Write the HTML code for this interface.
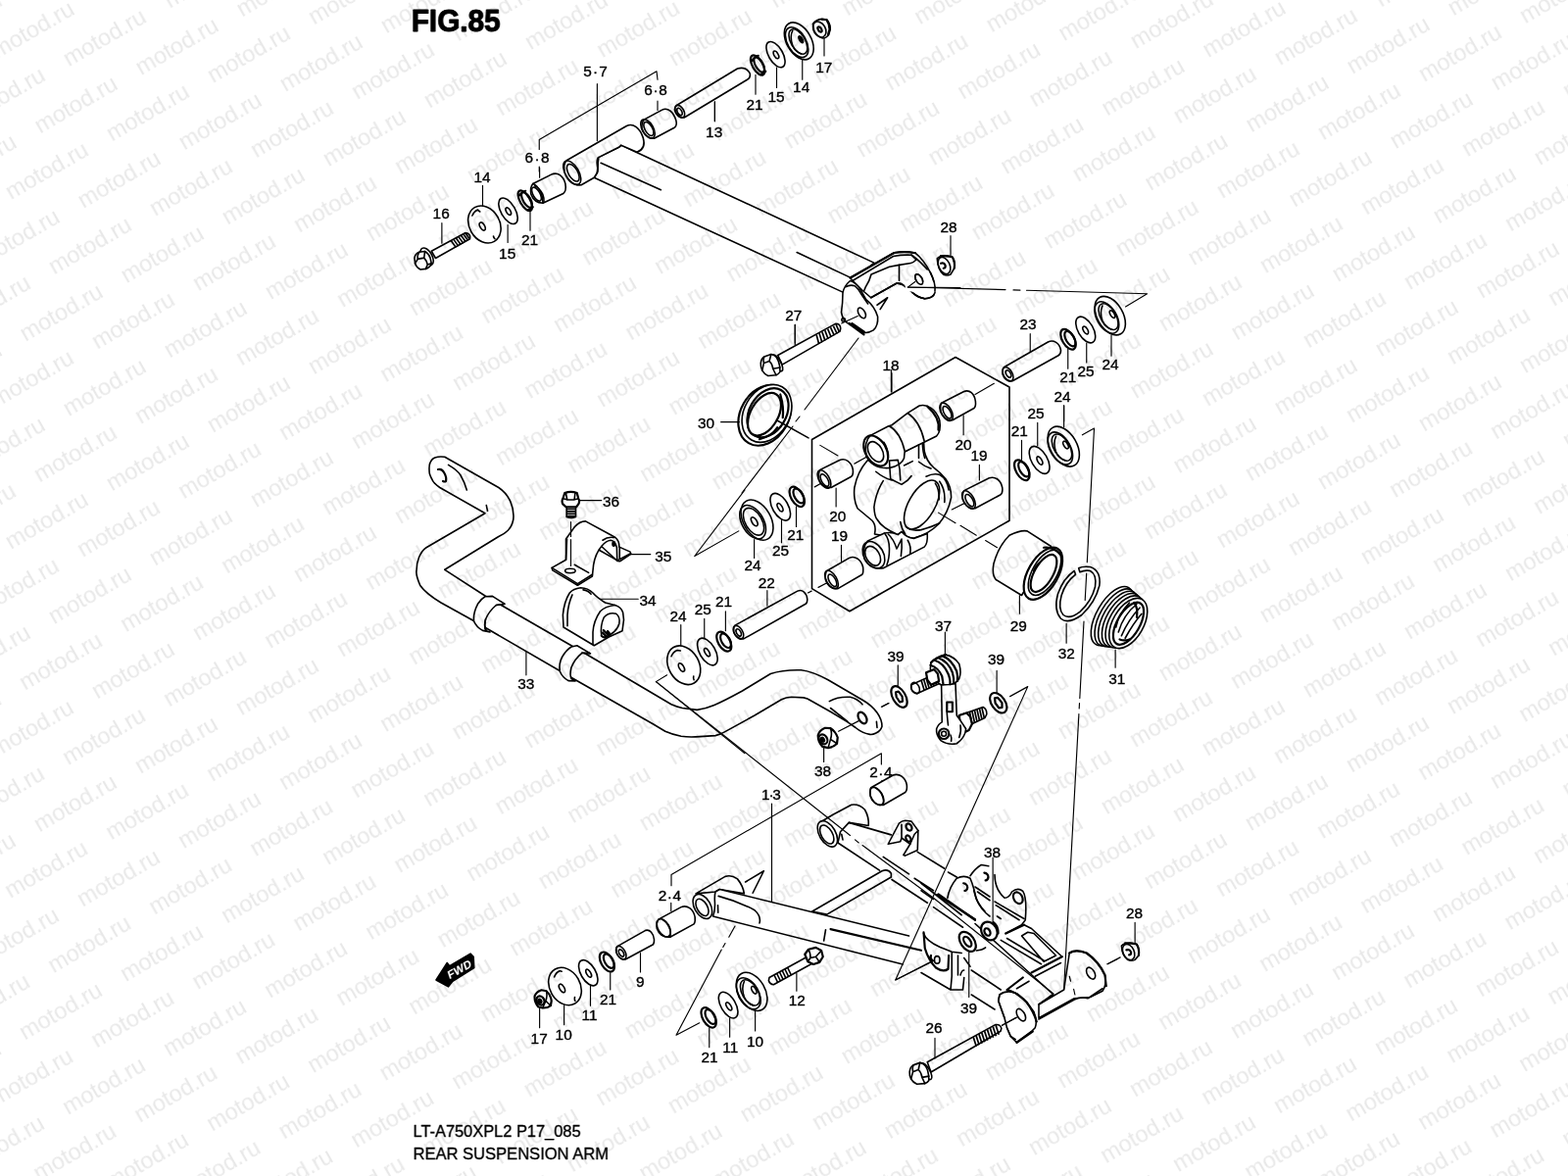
<!DOCTYPE html>
<html lang="en">
<head>
<meta charset="utf-8">
<title>FIG.85 REAR SUSPENSION ARM</title>
<style>
html,body{margin:0;padding:0;background:#fff;}
body{width:1600px;height:1200px;overflow:hidden;position:relative;font-family:"Liberation Sans",sans-serif;}
svg{position:absolute;left:0;top:0;display:block;filter:grayscale(1);}
.wm text{font-family:"Liberation Sans",sans-serif;font-size:23.6px;fill:#000;fill-opacity:.09;}
.d *{fill:none;stroke:#000;stroke-width:1.6;stroke-linecap:round;stroke-linejoin:round;vector-effect:non-scaling-stroke;}
.d .f{fill:#fff;}
.d .n{stroke-width:1.15;stroke:#000;}
.d .b{stroke-width:2.2;}
.d .k{fill:#000;}
.d .th{stroke-width:1.7;stroke-linecap:butt;}
.l{opacity:.999}
.t{opacity:.999}
.fw text{font:bold 11.5px "Liberation Sans",sans-serif;fill:#fff;letter-spacing:.2px;}
.bt text{font-family:"Liberation Sans",sans-serif;font-size:15.8px;fill:#000;stroke:#000;stroke-width:.3px;}
.l text{font-family:"Liberation Sans",sans-serif;font-size:16px;fill:#000;stroke:#000;stroke-width:.4px;stroke-linejoin:round;}
</style>
</head>
<body>
<svg width="1600" height="1200" viewBox="0 0 1600 1200">
<rect width="1600" height="1200" fill="#fff"/>
<!-- 10_t_400_150.svg -->
<g class="d" transform="translate(400,150) scale(0.125)">
<!-- bolt 16 -->
<path class="f" d="M322,850 L600,700 Q645,708 636,750 L356,908 Z"/>
<path class="th" d="M482,764 L522,820 M502,753 L542,809 M522,742 L562,798 M542,731 L582,786 M562,720 L602,774 M582,710 L620,762 M600,702 L634,752"/>
<ellipse class="f" cx="285" cy="895" rx="42" ry="78" transform="rotate(-30 285 895)"/>
<path class="f" d="M183,905 Q190,870 222,858 L268,852 Q300,870 312,905 L322,950 Q310,985 275,995 L232,1000 Q200,985 188,950 Z"/>
<path d="M222,858 Q205,880 210,915 L188,950 M210,915 L262,905 Q285,930 290,960 L275,995 M262,905 L268,852 M290,960 L322,950"/>
<!-- washer 14 -->
<ellipse class="f" cx="755" cy="632" rx="124" ry="160" transform="rotate(-30 755 632)"/>
<path d="M655,560 Q670,525 700,512 M840,750 Q830,740 828,728 M718,528 Q705,520 700,512"/>
<ellipse cx="738" cy="648" rx="19" ry="36" transform="rotate(-30 738 648)"/>
<!-- washer 15 -->
<ellipse class="f" cx="948" cy="522" rx="58" ry="118" transform="rotate(-30 948 522)"/>
<ellipse cx="950" cy="525" rx="17" ry="33" transform="rotate(-30 950 525)"/>
<!-- seal 21 -->
<ellipse class="f b" cx="1086" cy="438" rx="40" ry="92" transform="rotate(-30 1086 438)"/>
<ellipse class="b" cx="1100" cy="432" rx="30" ry="70" transform="rotate(-30 1100 432)"/>
<path class="b" d="M1040,395 Q1060,365 1090,358 M1105,515 Q1135,510 1150,490"/>
<!-- bushing 6.8 lower -->
<path class="f" d="M1150,300 L1300,225 C1350,200 1400,235 1415,300 C1422,340 1415,368 1398,380 L1232,458 Q1160,455 1135,385 Q1125,330 1150,300 Z"/>
<path d="M1150,300 Q1185,310 1215,370 Q1235,420 1232,458"/>
<ellipse cx="1180" cy="385" rx="28" ry="62" transform="rotate(-30 1180 385)"/>
<path d="M1165,318 Q1200,330 1230,385 Q1245,425 1240,448"/>
<!-- leaders -->
<path class="n" d="M740,315 V480 M407,620 V785 M1205,170 V250 M1128,520 V682 M945,635 V780"/>
</g>

<!-- 11_t_540_50.svg -->
<g class="d" transform="translate(540,50) scale(0.125)">
<!-- arm of part 5.7 (extends to clevis) -->
<path class="f" d="M565,885 L735,800 L750,785 L890,850 L2815,1745 L2560,1985 L530,1050 L555,1010 Z"/>
<path d="M585,930 L1075,1150"/>
<path d="M2185,1660 L2620,1865"/>
<!-- cross tube 5.7 -->
<path class="f" d="M305,910 L795,628 C850,600 905,650 930,725 C950,790 925,825 880,842 L750,785 L735,800 L565,885 L555,1010 L530,1050 L425,1110 Q330,1120 290,1010 Q275,940 305,910 Z"/>
<ellipse cx="350" cy="1010" rx="55" ry="108" transform="rotate(-30 350 1010)"/>
<ellipse cx="358" cy="1010" rx="38" ry="78" transform="rotate(-30 358 1010)"/>
<path d="M565,885 Q548,905 555,950 Q565,990 555,1010"/>
<!-- bracket -->
<path class="n" d="M82,1000 V960 M82,820 V740 L1040,182 L1048,250 M555,285 V750 M1048,425 V500 M1515,430 V590"/>
<!-- upper bushing 6.8 -->
<path class="f" d="M940,575 L1085,497 C1130,475 1175,510 1198,580 C1208,615 1200,632 1185,642 L1020,730 Q950,730 920,650 Q915,600 940,575 Z"/>
<ellipse cx="968" cy="652" rx="45" ry="85" transform="rotate(-30 968 652)"/>
<ellipse cx="975" cy="652" rx="30" ry="62" transform="rotate(-30 975 652)"/>
<!-- tube 13 -->
<path class="f" d="M1200,462 L1700,160 Q1765,140 1800,195 Q1812,232 1780,250 L1265,560 Q1205,560 1188,500 Q1185,475 1200,462 Z"/>
<ellipse cx="1230" cy="510" rx="32" ry="56" transform="rotate(-30 1230 510)"/>
<ellipse cx="1228" cy="512" rx="17" ry="32" transform="rotate(-30 1228 512)"/>
</g>

<!-- 12_t_700_0.svg -->
<g class="d" transform="translate(700,0) scale(0.125)">
<!-- seal 21 -->
<ellipse class="f b" cx="585" cy="532" rx="42" ry="90" transform="rotate(-30 585 532)"/>
<ellipse class="b" cx="597" cy="528" rx="30" ry="68" transform="rotate(-30 597 528)"/>
<path class="b" d="M540,495 Q560,462 590,455 M605,608 Q635,603 650,583"/>
<!-- washer 15 -->
<ellipse class="f" cx="732" cy="445" rx="58" ry="116" transform="rotate(-30 732 445)"/>
<ellipse cx="735" cy="447" rx="17" ry="34" transform="rotate(-30 735 447)"/>
<!-- washer 14 cup -->
<ellipse class="f" cx="922" cy="335" rx="100" ry="165" transform="rotate(-30 922 335)"/>
<ellipse cx="905" cy="345" rx="75" ry="135" transform="rotate(-30 905 345)"/>
<ellipse cx="915" cy="340" rx="58" ry="112" transform="rotate(-30 915 340)"/>
<ellipse class="k" cx="938" cy="322" rx="13" ry="30" transform="rotate(-30 938 322)"/>
<path d="M870,250 Q845,300 870,370 Q890,420 940,440"/>
<!-- nut 17 -->
<path class="f" d="M1035,195 Q1060,160 1110,155 L1150,160 Q1180,200 1178,240 L1165,285 Q1145,312 1115,312 Q1070,300 1045,250 Z"/>
<ellipse cx="1090" cy="240" rx="48" ry="68" transform="rotate(-30 1090 240)"/>
<ellipse class="b" cx="1092" cy="240" rx="13" ry="24" transform="rotate(-30 1092 240)"/>
<path class="b" d="M1110,158 L1148,162 Q1175,200 1172,240 L1160,282"/>
<path class="n" d="M235,830 V990 M568,610 V770 M740,550 V715 M950,485 V650 M1128,315 V455"/>
</g>

<!-- 13_t_780_200.svg -->
<g class="d" transform="translate(780,200) scale(0.125)">
<!-- clevis far plate -->
<path class="f" d="M1060,462 Q1150,448 1232,465 Q1300,520 1355,625 Q1400,715 1392,790 Q1375,835 1310,838 Q1255,830 1210,790 L1130,725 L1080,712 L870,830 L800,770 L700,670 Z"/>
<path d="M1200,480 Q1280,540 1330,600"/>
<ellipse cx="1262" cy="680" rx="25" ry="46" transform="rotate(-30 1262 680)"/>
<path d="M1210,790 Q1255,830 1310,838"/>
<path class="f" stroke="none" style="stroke:none" d="M1150,700 L1420,700 L1420,780 L1150,780 Z"/>
<path d="M1355,625 Q1400,715 1392,775 M1385,805 Q1370,832 1310,838 Q1255,830 1210,790"/>
<ellipse cx="1262" cy="680" rx="25" ry="46" transform="rotate(-30 1262 680)"/>
<path class="n" d="M1170,745 L1230,700 M1170,745 L1600,748"/>
<!-- top strap -->
<path class="b" d="M700,668 L1060,464 Q1150,450 1232,466"/>
<path d="M722,690 L1052,492 Q1130,478 1200,482 L1240,520 Q1215,545 1195,548 L1100,563 L1020,578 L872,640 Q860,690 825,745 L815,770"/>
<path d="M1100,563 V690 M870,830 L1080,712 Q1110,705 1135,728"/>
<path d="M920,890 L1005,830 L945,925"/>
<!-- near plate -->
<path class="f" d="M640,790 Q650,735 700,692 Q735,700 775,750 L830,845 Q900,900 925,985 Q930,1060 890,1095 Q850,1120 815,1115 L690,1045 Q640,1020 628,950 Q640,870 640,790 Z"/>
<path d="M662,742 Q700,720 740,735 Q770,760 790,800 L845,880"/>
<ellipse cx="795" cy="955" rx="26" ry="47" transform="rotate(-30 795 955)"/>
<path class="b" d="M690,1040 L812,1130"/>
<path class="th" d="M700,1040 L815,1122 M712,1035 L822,1112"/>
<circle cx="645" cy="1010" r="14"/>
<path class="n" d="M630,1040 L762,980"/>
<!-- nut 28 -->
<path class="f" d="M1410,510 Q1440,482 1500,488 L1535,500 Q1560,540 1550,590 L1520,640 Q1490,655 1460,640 Q1415,600 1410,510 Z"/>
<ellipse cx="1468" cy="568" rx="45" ry="72" transform="rotate(-25 1468 568)"/>
<path class="b" d="M1440,488 L1530,496 M1535,500 Q1558,540 1550,588"/>
<path class="b" d="M1440,550 Q1470,540 1478,570 Q1478,590 1462,590"/>
<path class="n" d="M1520,325 V490 M250,1050 V1200"/>
</g>

<!-- 14_t_720_300.svg -->
<g class="d" transform="translate(720,300) scale(0.125)">
<!-- bolt 27 -->
<path class="f" d="M590,500 L1060,243 Q1100,240 1102,280 L1097,305 L625,577 Z"/>
<path class="th" d="M905,333 L925,408 M928,321 L950,394 M951,309 L975,380 M974,297 L1000,366 M997,285 L1025,352 M1020,273 L1050,338 M1043,261 L1073,324 M1064,248 L1092,311"/>
<ellipse class="f" cx="585" cy="562" rx="28" ry="76" transform="rotate(-30 585 562)"/>
<path class="f" d="M450,565 Q455,525 478,512 L535,492 Q570,500 580,520 Q600,550 605,590 L608,635 Q595,655 575,662 L510,668 Q480,655 462,625 Q448,595 450,565 Z"/>
<path d="M478,512 Q468,535 475,565 L462,625 M475,565 L520,548 L535,492 M520,548 Q545,570 550,610 L575,662 M550,610 L608,600"/>
<path class="n" d="M730,250 V415 M1520,645 V800"/>
</g>
<g class="d" transform="translate(700,350) scale(0.125)">
<!-- seal 30 -->
<ellipse class="f b" cx="642" cy="590" rx="197" ry="262" transform="rotate(30 642 590)"/>
<ellipse class="f" cx="660" cy="575" rx="185" ry="250" transform="rotate(30 660 575)"/>
<ellipse class="b" cx="668" cy="570" rx="150" ry="215" transform="rotate(30 668 570)"/>
<ellipse class="f b" cx="640" cy="582" rx="112" ry="190" transform="rotate(30 640 582)"/>
<path class="b" d="M770,420 Q800,520 790,610 M745,690 Q700,760 600,785"/>
<path class="n" d="M285,645 H435"/>
<path d="M740,630 L1000,775"/>
</g>

<!-- 15_t_1000_280.svg -->
<g class="d" transform="translate(1000,280) scale(0.125)">
<!-- tube 23 -->
<path class="f" d="M195,758 L555,552 C600,530 650,560 660,620 Q660,650 640,662 L265,870 Q205,875 185,815 Q180,775 195,758 Z"/>
<ellipse cx="228" cy="815" rx="36" ry="62" transform="rotate(-30 228 815)"/>
<ellipse cx="232" cy="812" rx="18" ry="32" transform="rotate(-30 232 812)"/>
<!-- seal 21 -->
<ellipse class="f b" cx="720" cy="530" rx="48" ry="92" transform="rotate(-30 720 530)"/>
<ellipse class="b" cx="735" cy="525" rx="34" ry="68" transform="rotate(-30 735 525)"/>
<!-- washer 25 -->
<ellipse class="f" cx="862" cy="452" rx="62" ry="118" transform="rotate(-30 862 452)"/>
<ellipse cx="862" cy="456" rx="17" ry="35" transform="rotate(-30 862 456)"/>
<!-- bearing 24 -->
<ellipse class="f" cx="1062" cy="337" rx="105" ry="172" transform="rotate(-30 1062 337)"/>
<ellipse cx="1035" cy="352" rx="80" ry="142" transform="rotate(-30 1035 352)"/>
<ellipse cx="1048" cy="345" rx="62" ry="118" transform="rotate(-30 1048 345)"/>
<ellipse class="f" cx="1080" cy="325" rx="16" ry="34" transform="rotate(-30 1080 325)"/>
<path d="M1000,255 Q975,310 1000,380 Q1020,430 1075,450"/>
<path class="n" d="M410,485 V635 M718,610 V770 M870,560 V720 M1072,495 V665 M685,1070 V1200"/>
</g>

<!-- 16_t_820_380.svg -->
<g class="d" transform="translate(820,380) scale(0.125)">
<!-- detail box 18 -->
<path d="M68,548 L1240,-124 L1680,120 V1210 L375,1950 L68,1765 Z"/>
<path class="n" d="M715,-20 V160 M135,595 L280,680 M90,935 L170,890 M415,745 L550,670 M1400,180 L1555,90 M1210,1120 L1340,1055 M120,1755 L225,1700 M265,945 V1095 M1305,350 V510 M1435,755 V880 M308,1410 V1540"/>
<!-- bushing 20 left -->
<path class="f" d="M135,795 L290,718 C340,695 390,730 402,790 Q408,835 390,850 L225,940 Q150,945 125,875 Q118,820 135,795 Z"/>
<ellipse cx="168" cy="872" rx="42" ry="82" transform="rotate(-30 168 872)"/>
<ellipse cx="172" cy="880" rx="26" ry="55" transform="rotate(-30 172 880)"/>
<!-- bushing 20 upper right -->
<path class="f" d="M1125,250 L1305,158 C1355,135 1395,175 1403,235 Q1408,275 1392,292 L1215,390 Q1145,392 1120,320 Q1112,272 1125,250 Z"/>
<ellipse cx="1165" cy="322" rx="42" ry="80" transform="rotate(-30 1165 322)"/>
<ellipse cx="1172" cy="326" rx="26" ry="55" transform="rotate(-30 1172 326)"/>
<!-- bushing 19 right -->
<path class="f" d="M1310,965 L1515,862 C1565,845 1610,880 1622,940 Q1628,985 1605,1000 L1400,1110 Q1325,1115 1300,1040 Q1292,990 1310,965 Z"/>
<ellipse cx="1348" cy="1040" rx="42" ry="82" transform="rotate(-30 1348 1040)"/>
<ellipse cx="1355" cy="1045" rx="26" ry="55" transform="rotate(-30 1355 1045)"/>
<!-- bushing 19 lower left -->
<path class="f" d="M190,1620 L372,1515 C420,1492 470,1530 485,1590 Q490,1635 478,1650 L280,1765 Q205,1770 180,1695 Q172,1645 190,1620 Z"/>
<ellipse cx="228" cy="1692" rx="42" ry="82" transform="rotate(-30 228 1692)"/>
<ellipse cx="235" cy="1698" rx="26" ry="55" transform="rotate(-30 235 1698)"/>
<!-- knuckle 18 : hub -->
<path class="f" d="M520,720 Q440,810 415,940 Q405,1040 440,1110 L560,1210 Q595,1250 580,1320 L640,1330 L770,1325 L800,1300 Q840,1350 900,1355 Q1020,1320 1100,1240 Q1180,1150 1205,1020 Q1205,930 1160,870 Q1120,820 1060,775 Q1000,720 985,640 L980,560 L820,650 Z"/>
<path d="M650,885 Q590,980 575,1100 Q580,1180 600,1200 Q640,1270 770,1325"/>
<ellipse class="f" cx="965" cy="1080" rx="107" ry="222" transform="rotate(30 965 1080)"/>
<path d="M1000,850 Q1060,820 1110,835 Q1170,870 1185,960 M1075,905 Q1110,960 1105,1040 M1110,890 Q1160,960 1150,1060"/>
<path d="M835,1260 Q880,1300 960,1285 Q1050,1260 1110,1230 M790,1220 Q800,1280 830,1320"/>
<!-- lower boss -->
<path class="f" d="M525,1375 L660,1312 Q720,1300 770,1325 L800,1300 Q840,1350 900,1355 L1010,1315 Q1015,1400 985,1425 L650,1598 Q540,1610 495,1520 Q480,1420 525,1375 Z"/>
<ellipse cx="572" cy="1490" rx="80" ry="118" transform="rotate(-30 572 1490)"/>
<ellipse cx="565" cy="1498" rx="55" ry="85" transform="rotate(-30 565 1498)"/>
<path d="M660,1312 Q700,1360 700,1440 Q700,1520 680,1570 M690,1320 Q735,1360 760,1440 L800,1360 Q805,1440 795,1500 M850,1370 Q880,1420 870,1480"/>
<!-- upper boss -->
<path class="f" d="M545,515 L690,440 L720,430 L845,335 L860,325 L945,272 C1010,255 1080,300 1110,390 Q1125,480 1085,520 L825,648 L820,700 Q800,760 700,780 Q560,790 510,680 Q495,560 545,515 Z"/>
<ellipse class="b" cx="590" cy="640" rx="85" ry="135" transform="rotate(-30 590 640)"/>
<ellipse cx="588" cy="648" rx="55" ry="90" transform="rotate(-30 588 648)"/>
<path d="M700,438 Q790,490 825,640 M850,332 Q950,400 985,560 M655,570 Q690,620 690,700"/>
<path class="b" d="M1010,278 Q1115,370 1100,470"/>
<path d="M700,720 L770,715 Q790,790 790,880 M700,720 Q705,810 710,870 L800,915 L850,880 L880,845 M590,810 Q650,860 720,880 M940,590 V700 M970,580 Q975,660 990,700 M820,760 L890,725 M940,730 Q990,770 1040,785"/>
</g>

<!-- 17_t_1000_400.svg -->
<g class="d" transform="translate(1000,400) scale(0.125)">
<!-- seal 21 -->
<ellipse class="f b" cx="342" cy="638" rx="48" ry="92" transform="rotate(-30 342 638)"/>
<ellipse class="b" cx="358" cy="630" rx="34" ry="68" transform="rotate(-30 358 630)"/>
<!-- washer 25 -->
<ellipse class="f" cx="485" cy="555" rx="64" ry="124" transform="rotate(-30 485 555)"/>
<ellipse cx="487" cy="560" rx="17" ry="37" transform="rotate(-30 487 560)"/>
<!-- bearing 24 -->
<ellipse class="f" cx="682" cy="445" rx="108" ry="178" transform="rotate(-30 682 445)"/>
<ellipse cx="655" cy="460" rx="82" ry="146" transform="rotate(-30 655 460)"/>
<ellipse cx="668" cy="453" rx="64" ry="120" transform="rotate(-30 668 453)"/>
<ellipse class="f" cx="700" cy="432" rx="16" ry="34" transform="rotate(-30 700 432)"/>
<path d="M620,362 Q595,418 620,488 Q640,538 695,558"/>
<path class="n" d="M685,110 V285 M470,250 V440 M340,395 V555"/>
</g>

<!-- 18_t_980_520.svg -->
<g class="d" transform="translate(980,520) scale(0.125)">
<path class="n" d="M-180,25 L-40,110 M0,130 L130,210 M205,252 L300,310"/>
<!-- bearing 29 -->
<path class="f" d="M740,300 L545,175 Q490,165 400,210 Q310,300 272,440 Q255,530 290,572 L500,700 Z"/>
<ellipse class="f b" cx="675" cy="522" rx="122" ry="235" transform="rotate(30 675 522)"/>
<ellipse cx="688" cy="515" rx="100" ry="205" transform="rotate(30 688 515)"/>
<ellipse class="b" cx="680" cy="520" rx="75" ry="170" transform="rotate(30 680 520)"/>
<path class="b" d="M600,500 Q615,460 640,440 M680,310 Q760,300 820,370"/>
<!-- snap ring 32 -->
<path d="M930,500 Q840,560 795,690 Q760,820 820,890 Q880,940 990,860 Q1100,760 1135,620 Q1150,500 1060,468 Q1000,460 965,478 L975,510 Q1020,490 1060,500 Q1115,530 1100,630 Q1070,750 975,835 Q890,900 840,860 Q795,810 825,700 Q860,590 940,530 Z"/>
<!-- boot 31 -->
<ellipse class="f" cx="1240" cy="869" rx="128" ry="268" transform="rotate(30 1240 869)"/>
<ellipse class="f" cx="1266" cy="881" rx="127" ry="259" transform="rotate(30 1266 881)"/>
<ellipse class="f" cx="1292" cy="893" rx="127" ry="251" transform="rotate(30 1292 893)"/>
<ellipse class="f" cx="1318" cy="904" rx="126" ry="242" transform="rotate(30 1318 904)"/>
<ellipse class="f" cx="1344" cy="916" rx="126" ry="234" transform="rotate(30 1344 916)"/>
<ellipse class="f" cx="1370" cy="928" rx="125" ry="225" transform="rotate(30 1370 928)"/>
<ellipse class="b" cx="1372" cy="930" rx="92" ry="192" transform="rotate(30 1372 930)"/>
<path d="M1290,1000 Q1330,860 1440,770 M1315,1030 Q1370,900 1465,800 M1345,1050 Q1410,930 1480,850 M1270,960 Q1290,850 1380,760"/>
<path class="b" d="M1420,760 Q1450,800 1440,880 M1300,1060 Q1340,1075 1380,1060"/>
<path class="n" d="M483,700 V850 M865,930 V1090 M1265,1145 V1290"/>
</g>

<!-- 20_bar.svg -->
<g class="d">
<!-- stabilizer bar 33 (source coords) -->
<path class="f" d="M443.8,466.9 Q448,465.6 453.8,466.3 L508.8,497.5 C520,505 525,518 523.8,530 C522,540 516,544 508.8,547.5 L453.8,581.3 L495,608 L602.5,670 L685,718.8 C690,721 693,722 696.3,722.5 L711.3,724.4 C722,723 732,719 757.5,705 L786.3,687.5 C797,684 808,683.5 817.5,683.8 C828,685 838,690 845,693.8 L881.3,715 C893,722 900,732 900,741.3 C898,748 890,750 887.5,749.4 C880,748 876,745 873.1,742.5 L865,736.9 L847.5,726.3 L827.5,715 Q824,712.5 820,711.9 L807.5,711.3 Q802,711.5 797.5,713.8 L770,730 L739.4,746.9 Q735,749.5 730,750.6 L710,751.9 Q702,752.3 695,751.3 Q686,749.5 678.8,746.3 L666.3,738.8 L585,692.5 L482.5,633 L450,615 C440,609 432,602 428.8,597.5 C425.5,590 424.5,585 425,582.5 C425,575 427,570 427.5,568.8 C430,563 433,560 435,558.8 L450,550 L495,523.8 L448.8,497.5 C444,494 442,492 441.3,490 C439,486 438,483 438.1,481.3 C437.8,477 438,474 438.8,472.5 C440,469.5 442,467.5 443.8,466.9 Z"/>
<!-- eye left details -->
<path d="M457.5,474.4 Q467,480 470,485 Q474,492 476.3,500"/>
<path class="b" d="M447,479 Q451,478 453,482 Q456,487 455,491 Q454,492 452,491"/>
<path d="M496.3,515.6 L497.5,521.3"/>
<!-- eye right details -->
<path d="M846.3,715.6 Q855,710.6 867.5,711.3 Q875,713 880,718.8 M847.5,722.5 L865,736.3 M894.4,736.3 L895,742.5"/>
<ellipse class="b" cx="880" cy="732.5" rx="3.8" ry="6.3" transform="rotate(-30 880 732.5)"/>
<!-- collars -->
<path class="f" d="M495,608.8 L502.5,608.4 L515,616.3 L506.3,617.5 Q498.8,623.8 495.5,632 Q493.5,640 496.3,643.8 L500,645 L492.5,643.4 Q486.3,640 483.6,634 Q482.5,626 487.5,616.3 Q491,611 495,608.8 Z"/>
<path d="M506.3,617.5 L514,616.6 M495.5,632 Q493.5,640 496.3,643.8"/>
<path class="f" d="M583.1,660 L588.8,658.8 L602.5,666.9 L593.8,666.3 Q586.3,672.5 583,681 Q581,689 583.1,692.5 L587,695 L580,694.6 Q573.8,691.3 571.3,685 Q570,677 573.8,670 Q578,663 583.1,660 Z"/>
<path d="M593.8,666.3 L601.5,666.5"/>
</g>

<!-- 21_t_540_490.svg -->
<g class="d" transform="translate(540,490) scale(0.125)">
<!-- bolt 36 -->
<path class="f" d="M305,215 H380 V300 Q342,315 305,300 Z"/>
<path class="th" d="M305,235 H380 M305,255 H380 M305,275 H380 M305,295 H380"/>
<path class="f b" d="M290,105 Q340,85 390,105 L402,150 Q415,170 402,195 L385,218 H300 L275,195 Q262,170 275,150 Z"/>
<path d="M275,150 Q340,170 402,150 M300,108 L310,160 M375,108 L368,160"/>
<!-- clamp 35 -->
<path class="f" d="M300,480 L300,650 L185,715 L190,735 L395,858 L515,785 L525,690 Q540,600 590,540 L720,660 L740,662 L830,602 L825,585 L735,545 Q735,490 700,465 L650,438 L460,335 Q410,335 370,382 Z"/>
<path d="M185,715 L395,845 L515,770 M395,845 L395,858 M370,690 L485,755 M590,540 Q625,495 665,490 Q700,495 715,548 L718,655 M570,570 L720,655 L828,598 M738,548 L738,640 M600,490 Q640,460 690,468 M300,650 L308,480"/>
<ellipse cx="335" cy="740" rx="42" ry="18"/>
<ellipse class="k" cx="690" cy="520" rx="10" ry="18"/>
<path class="n" d="M340,340 V460 M340,485 V700 M410,165 H590 M830,605 H990 M560,970 H890"/>
<!-- bushing 34 -->
<path class="f" d="M330,920 Q360,885 420,878 Q480,880 520,920 Q550,955 620,1000 L700,1020 Q750,1035 765,1080 L772,1140 L760,1230 L650,1280 L530,1350 L280,1200 L275,1100 Q285,990 330,920 Z"/>
<path d="M352,935 Q318,1010 312,1100 L312,1190 M520,1340 L520,1240 Q525,1150 580,1070 Q620,1030 700,1020 M440,895 Q480,900 505,930"/>
<path d="M590,1270 Q578,1190 610,1120 Q650,1075 710,1090 Q745,1120 735,1170 Q725,1210 690,1240 L660,1262"/>
<path class="b" d="M590,1270 Q600,1285 620,1282 L655,1265 M598,1245 L630,1275 M606,1225 L645,1262 M640,1232 L655,1250"/>
</g>

<!-- 22_t_680_500.svg -->
<g class="d" transform="translate(680,500) scale(0.125)">
<path class="n" d="M230,540 L590,335 M230,540 L640,0"/>
<!-- bearing 24 -->
<ellipse class="f" cx="740" cy="245" rx="112" ry="178" transform="rotate(-30 740 245)"/>
<ellipse cx="705" cy="262" rx="88" ry="150" transform="rotate(-30 705 262)"/>
<ellipse cx="712" cy="258" rx="68" ry="122" transform="rotate(-30 712 258)"/>
<ellipse cx="718" cy="258" rx="20" ry="40" transform="rotate(-30 718 258)"/>
<!-- washer 25 -->
<ellipse class="f" cx="930" cy="138" rx="64" ry="122" transform="rotate(-30 930 138)"/>
<ellipse cx="928" cy="142" rx="17" ry="37" transform="rotate(-30 928 142)"/>
<!-- seal 21 -->
<ellipse class="f b" cx="1066" cy="55" rx="48" ry="90" transform="rotate(-30 1066 55)"/>
<ellipse class="b" cx="1080" cy="48" rx="34" ry="66" transform="rotate(-30 1080 48)"/>
<!-- tube 22 -->
<path class="f" d="M560,1105 L1070,825 C1110,808 1145,840 1150,890 Q1152,915 1140,928 L630,1215 Q570,1215 550,1160 Q545,1120 560,1105 Z"/>
<ellipse cx="588" cy="1162" rx="34" ry="60" transform="rotate(-30 588 1162)"/>
<ellipse cx="590" cy="1164" rx="17" ry="32" transform="rotate(-30 590 1164)"/>
<path class="n" d="M1060,135 V300 M940,245 V430 M717,405 V555 M823,820 V945 M483,990 V1150 M310,1050 V1215 M118,1100 V1270 M1155,840 L1185,825"/>
</g>
<g class="d" transform="translate(560,620) scale(0.125)">
<!-- washer 24 thick -->
<ellipse class="f" cx="1102" cy="470" rx="124" ry="168" transform="rotate(-30 1102 470)"/>
<path d="M1000,398 Q1015,360 1048,348 L1075,352 M1185,590 Q1178,580 1182,560"/>
<ellipse cx="1083" cy="488" rx="19" ry="38" transform="rotate(-30 1083 488)"/>
<!-- washer 25 -->
<ellipse class="f" cx="1295" cy="360" rx="64" ry="122" transform="rotate(-30 1295 360)"/>
<ellipse cx="1292" cy="365" rx="17" ry="37" transform="rotate(-30 1292 365)"/>
<!-- seal 21 -->
<ellipse class="f b" cx="1430" cy="277" rx="48" ry="88" transform="rotate(-30 1430 277)"/>
<ellipse class="b" cx="1444" cy="270" rx="34" ry="64" transform="rotate(-30 1444 270)"/>
<path class="n" d="M875,605 L965,550 M875,605 L1600,1190"/>
</g>
<g class="d"><path class="n" d="M536.9,665 V688.8"/></g>

<!-- 23_t_880_640.svg -->
<g class="d" transform="translate(880,640) scale(0.125)">
<path class="n" d="M155,650 L215,620 M675,40 V225 M290,310 V480 M1097,355 V535"/>
<!-- washer 39 left -->
<ellipse class="f b" cx="300" cy="568" rx="52" ry="95" transform="rotate(-30 300 568)"/>
<path class="b" d="M272,530 L295,525 L325,565 L328,605 L305,612 L278,570 Z"/>
<!-- washer 39 right -->
<ellipse class="f b" cx="1110" cy="618" rx="55" ry="92" transform="rotate(-35 1110 618)"/>
<path class="b" d="M1080,578 L1105,575 L1140,618 L1140,655 L1115,660 L1085,620 Z"/>
<!-- link 37 : studs -->
<path class="f" d="M400,470 L610,375 L650,450 L450,540 Q410,535 398,500 Z"/>
<ellipse cx="432" cy="497" rx="32" ry="48" transform="rotate(-25 432 497)"/>
<path class="th" d="M480,432 L505,515 M500,423 L525,506 M520,414 L545,497 M540,405 L565,488 M560,396 L585,479 M580,387 L605,470 M600,378 L625,461"/>
<path class="f" d="M790,720 L985,652 Q1015,665 1015,710 L1000,740 L850,810 Z"/>
<path class="th" d="M875,690 L895,785 M895,683 L915,776 M915,676 L935,767 M935,669 L955,758 M955,662 L975,749 M975,656 L995,742"/>
<path class="f b" d="M790,720 L850,700 L880,730 L895,790 L870,840 L830,860 L800,800 Z"/>
<!-- body -->
<path class="f" d="M645,470 L760,460 L770,720 Q800,760 845,830 Q840,900 770,950 Q700,965 640,925 Q600,880 605,830 Q620,790 650,775 Z"/>
<circle class="b" cx="665" cy="870" r="42"/>
<circle cx="665" cy="870" r="20"/>
<path class="b" d="M690,612 H735 V690 H690 Z"/>
<path d="M690,700 Q695,760 700,800 M720,880 Q730,900 725,930 M800,800 Q810,850 790,900"/>
<!-- top boot -->
<path class="f" d="M560,290 Q600,245 680,225 Q750,240 790,300 Q810,370 790,420 Q770,455 720,468 L640,470 L600,440 Q540,380 560,290 Z"/>
<path class="b" d="M560,290 Q600,245 680,225 M590,270 Q660,290 700,380 Q720,430 715,465 M620,250 Q700,280 735,370 Q750,420 745,458 M655,235 Q730,265 770,360 Q780,400 775,440 M555,310 Q620,330 650,400 L660,465"/>
<path class="f b" d="M520,370 L585,345 L615,380 L625,440 L560,470 L530,430 Z"/>
</g>

<!-- 24_t_720_640.svg -->
<g class="d" transform="translate(720,640) scale(0.125)">
<path class="n" d="M1085,850 L1250,765 M1440,650 L1495,620 M965,985 V1100"/>
<!-- nut 38 -->
<path class="f b" d="M918,880 Q930,840 975,822 L1020,825 Q1060,850 1078,900 L1072,950 Q1045,980 1000,985 L955,975 Q915,935 918,880 Z"/>
<ellipse class="b" cx="960" cy="915" rx="32" ry="42" transform="rotate(-30 960 915)"/>
<ellipse class="k" cx="955" cy="918" rx="14" ry="20" transform="rotate(-30 955 918)"/>
<path d="M1020,825 Q1035,870 1020,915 L1072,950 M1020,915 L1000,985"/>
</g>

<!-- 30_t_640_870.svg -->
<g class="d" transform="translate(640,870) scale(0.125)">
<path class="n" d="M360,270 V180 L2075,-810 V-720 M2080,-590 V-515 M358,410 V475 M1180,-400 V400 M880,600 L830,690 M800,740 L782,772 M770,792 L400,1490 L590,1390 M108,820 V975 M1383,985 V1130"/>
<!-- bushing 2.4 left -->
<path class="f" d="M255,545 L440,445 C490,425 540,460 553,525 Q558,565 545,583 L350,690 Q270,695 242,620 Q235,570 255,545 Z"/>
<ellipse cx="298" cy="615" rx="46" ry="80" transform="rotate(-30 298 615)"/>
<path d="M290,548 Q330,570 350,630 Q358,665 350,688"/>
<!-- tube 9 end -->
<path class="f" d="M-80,765 L150,635 C185,625 215,660 220,710 Q222,735 212,750 L-15,872 Q-70,870 -88,815 Q-92,780 -80,765 Z"/>
<ellipse cx="-50" cy="818" rx="34" ry="60" transform="rotate(-30 -50 818)"/>
<ellipse cx="-48" cy="820" rx="17" ry="32" transform="rotate(-30 -48 820)"/>
<!-- front pivot tube -->
<path class="f" d="M560,335 L800,195 Q850,178 900,215 Q945,270 955,335 L755,300 L720,320 Z"/>
<!-- front arm -->
<path class="f" style="stroke:none" d="M755,300 L2420,710 L2400,960 L700,520 Q720,470 715,400 Q712,350 720,320 Z"/>
<path d="M2300,680 L755,300 L720,320 Q712,350 715,400 Q720,470 700,520 L2250,912"/>
<path d="M745,355 Q900,395 1040,470 Q1095,520 1080,575 M740,430 L742,490"/>
<ellipse class="f" cx="615" cy="440" rx="66" ry="108" transform="rotate(-30 615 440)"/>
<ellipse cx="612" cy="447" rx="42" ry="76" transform="rotate(-30 612 447)"/>
<path d="M965,240 L1115,150 L1025,330"/>
<!-- bolt 12 -->
<path class="f" d="M1160,1020 L1470,850 L1520,900 L1195,1078 Q1165,1075 1155,1045 Z"/>
<path class="th" d="M1200,1000 L1228,1058 M1222,988 L1250,1046 M1244,976 L1272,1034 M1266,964 L1294,1022 M1288,952 L1316,1010 M1310,940 L1338,998"/>
<path class="f b" d="M1450,830 L1480,790 L1540,775 L1585,800 L1598,850 L1570,895 L1520,912 L1475,890 Z"/>
<path d="M1480,790 Q1500,830 1495,860 L1475,890 M1495,860 L1540,850 L1585,800 M1540,850 Q1560,880 1570,895"/>
</g>
<g class="d" transform="translate(680,980) scale(0.125)">
<!-- seal 21 -->
<ellipse class="f b" cx="345" cy="467" rx="48" ry="90" transform="rotate(-30 345 467)"/>
<ellipse class="b" cx="360" cy="460" rx="34" ry="66" transform="rotate(-30 360 460)"/>
<!-- washer 11 -->
<ellipse class="f" cx="505" cy="365" rx="60" ry="118" transform="rotate(-30 505 365)"/>
<ellipse cx="510" cy="375" rx="17" ry="37" transform="rotate(-30 510 375)"/>
<!-- bearing 10 -->
<ellipse class="f" cx="697" cy="255" rx="108" ry="170" transform="rotate(-30 697 255)"/>
<ellipse cx="670" cy="270" rx="82" ry="140" transform="rotate(-30 670 270)"/>
<ellipse cx="683" cy="263" rx="64" ry="115" transform="rotate(-30 683 263)"/>
<ellipse class="f" cx="715" cy="242" rx="16" ry="34" transform="rotate(-30 715 242)"/>
<path d="M635,172 Q610,228 635,298 Q655,348 710,368"/>
<path class="n" d="M350,550 V710 M517,470 V625 M725,405 V575"/>
</g>

<!-- 31_t_820_830.svg -->
<g class="d" transform="translate(820,830) scale(0.125)">
<!-- chain line along rear arm -->
<!-- bushing 2.4 upper -->
<path class="f" d="M550,-210 L730,-312 C780,-330 830,-295 842,-235 Q848,-190 830,-172 L650,-68 Q570,-65 545,-140 Q538,-190 550,-210 Z"/>
<ellipse cx="598" cy="-140" rx="46" ry="80" transform="rotate(-30 598 -140)"/>
<path d="M590,-205 Q630,-185 650,-125 Q658,-90 650,-70"/>
<!-- rear pivot tube -->
<path class="f" d="M140,70 L240,10 L390,-70 Q450,-80 500,-30 Q535,30 530,100 L370,75 L300,150 L280,240 Z"/>
<path d="M370,75 L715,175"/>
<ellipse class="f" cx="195" cy="167" rx="66" ry="116" transform="rotate(-30 195 167)"/>
<ellipse cx="190" cy="172" rx="45" ry="84" transform="rotate(-30 190 172)"/>
<path d="M310,170 L320,215"/>
<!-- rear arm edges -->
<path d="M280,240 L620,465 M720,540 L1010,730 M1060,765 L1300,930 M650,355 L860,495 M905,530 L1060,630 M930,315 L1150,450 M1180,480 L1250,520"/>
<path class="b" d="M1100,660 L1400,870"/>
<!-- small bracket -->
<path class="f" d="M690,250 L780,80 Q800,60 830,58 L880,65 L935,140 L930,300 L830,345 L815,340 L870,250 L800,200 L790,230 Z"/>
<path d="M800,200 L800,90 M870,250 L905,170 L935,140"/>
<ellipse class="b" cx="860" cy="112" rx="22" ry="30" transform="rotate(-30 860 112)"/>
<ellipse class="b" cx="855" cy="205" rx="18" ry="28" transform="rotate(-30 855 205)"/>
<!-- cross member -->
<path class="f" d="M70,800 L640,470 Q690,450 715,490 L715,520 L190,825 Z"/>
<!-- front arm seam -->
<path class="b" d="M220,945 L960,1118"/>
<path d="M180,950 L165,1040"/>
</g>

<!-- 32_t_940_880.svg -->
<g class="d" transform="translate(940,880) scale(0.125)">
<path class="n" d="M585,-40 V490 M390,735 V1100 M1165,1040 L1330,945 M1520,830 L1600,790"/>
<!-- rear arm right end lines -->
<path d="M0,170 L330,430 M440,500 L1080,1080 L960,1160 M0,230 L100,300 M440,200 L560,280 M600,320 L840,460 M460,240 L560,310 M610,350 L800,470"/>
<path class="b" d="M130,265 L440,465"/>
<!-- mount bracket ears -->
<path d="M215,290 Q230,200 290,130 Q350,100 400,130 Q430,200 450,300 Q490,390 560,440 M400,110 Q440,50 490,20 L550,30 M600,100 Q600,220 680,290 Q720,290 740,240 Q790,200 830,235 Q865,290 850,470 L820,510 L690,580"/>
<path class="b" d="M345,170 Q375,175 378,205 Q375,230 355,232 M515,85 Q545,90 548,120 Q545,145 525,147"/>
<ellipse class="b" cx="790" cy="290" rx="35" ry="50" transform="rotate(-30 790 290)"/>
<path class="b" d="M690,580 L840,510"/>
<path d="M430,230 Q450,330 520,400 M620,440 L650,460"/>
<!-- channel -->
<path d="M840,510 L900,540 L1150,770 M820,600 L870,570 L920,580 L1100,760 L1000,810 Z M650,635 L980,830 M700,620 L1000,800 M930,930 L1140,820"/>
<path class="b" d="M900,900 L1150,770"/>
<!-- end tab far plate -->
<path class="f" d="M1210,740 Q1260,705 1350,740 Q1450,810 1500,920 Q1515,1000 1480,1050 L1380,1100 L1250,1110 L960,1270 L960,1160 L1165,1040 Z"/>
<path class="b" d="M1210,740 Q1260,705 1350,740 Q1450,810 1500,920 L1510,1010"/>
<ellipse cx="1385" cy="905" rx="30" ry="52" transform="rotate(-30 1385 905)"/>
<!-- nut 38 -->
<ellipse class="f b" cx="555" cy="560" rx="62" ry="78" transform="rotate(-30 555 560)"/>
<ellipse class="b" cx="540" cy="568" rx="22" ry="32" transform="rotate(-30 540 568)"/>
<path class="b" d="M590,490 Q630,520 628,580"/>
<!-- washer 39 -->
<ellipse class="f b" cx="378" cy="647" rx="55" ry="90" transform="rotate(-35 378 647)"/>
<ellipse class="b" cx="378" cy="647" rx="24" ry="46" transform="rotate(-35 378 647)"/>
<!-- link bracket at front arm end -->
<path d="M20,580 Q40,640 150,690 L250,730 L330,740 M450,720 Q500,715 525,695 M250,740 V930 L240,1040 H340 L350,940 M300,760 V920 M350,880 Q330,880 320,920 M0,900 L240,1040 M410,880 L650,1040 M410,1080 L600,1200 M350,780 L400,850"/>
<path class="b" d="M20,570 L30,700 Q60,800 120,860 Q180,900 220,870 L225,760 M90,800 Q70,780 80,760"/>
<ellipse cx="130" cy="795" rx="22" ry="30"/>
<path class="n" d="M-210,960 L100,800"/>
</g>

<!-- 33_t_1000_940.svg -->
<g class="d" transform="translate(1000,940) scale(0.125)">
<!-- near plate of end clevis -->
<path class="f" d="M160,600 Q220,555 300,590 Q380,650 440,740 Q470,820 450,870 L420,900 L300,990 L250,940 L220,870 L200,790 L150,650 Z"/>
<path class="b" d="M220,560 Q300,580 380,660 Q440,740 462,820 M300,990 L430,900 M220,560 L350,460"/>
<path d="M160,600 L150,650 L200,790 M220,870 L250,940 L290,965 M300,550 L400,490 M480,680 L590,600 M480,800 L770,640 Q820,615 880,630 L1000,550"/>
<ellipse cx="335" cy="765" rx="30" ry="55" transform="rotate(-30 335 765)"/>
<path class="n" d="M180,850 L300,785 M1040,350 L1145,295 M1265,10 V180"/>
<!-- nut 28 lower -->
<path class="f" d="M1155,200 Q1185,172 1245,178 L1280,190 Q1305,230 1295,280 L1265,315 Q1235,330 1205,315 Q1160,280 1155,200 Z"/>
<ellipse cx="1213" cy="252" rx="45" ry="68" transform="rotate(-25 1213 252)"/>
<path class="b" d="M1185,178 L1275,186 M1280,190 Q1303,230 1295,278 M1195,235 Q1225,225 1233,255 Q1233,275 1217,275"/>
<!-- bolt 26 thread end -->
<path class="n" d="M730,450 L740,490 M765,555 L775,600"/>
</g>

<!-- 34_t_900_1020.svg -->
<g class="d" transform="translate(900,1020) scale(0.125)">
<!-- bolt 26 -->
<path class="f" d="M370,510 L925,205 Q965,200 975,235 L968,258 L400,592 Z"/>
<path class="th" d="M745,305 L770,382 M768,293 L793,370 M791,281 L816,358 M814,269 L839,346 M837,257 L862,334 M860,245 L885,322 M883,233 L908,310 M906,221 L931,298 M929,209 L954,286"/>
<ellipse class="f" cx="362" cy="585" rx="28" ry="76" transform="rotate(-30 362 585)"/>
<path class="f" d="M225,590 Q230,548 255,535 L310,515 Q345,522 357,545 Q377,575 380,615 L383,660 Q370,680 350,685 L285,690 Q255,678 237,648 Q223,618 225,590 Z"/>
<path d="M255,535 Q245,560 252,590 L237,648 M252,590 L297,572 L310,515 M297,572 Q322,595 327,635 L350,685 M327,635 L383,625"/>
<path class="n" d="M432,315 V480 M980,210 L1090,150"/>
</g>

<!-- 35_t_420_940.svg -->
<g class="d" transform="translate(420,940) scale(0.125)">
<!-- FWD arrow -->
<path class="k" d="M200,480 L290,340 L310,365 L480,265 L505,290 L510,380 L335,490 L300,535 Z"/>
<!-- nut 17 -->
<path class="f b" d="M1005,610 Q1020,575 1060,562 L1100,570 Q1135,600 1142,650 L1135,690 Q1110,710 1070,708 L1035,700 Q1000,660 1005,610 Z"/>
<ellipse class="b" cx="1052" cy="648" rx="30" ry="38" transform="rotate(-30 1052 648)"/>
<ellipse class="k" cx="1048" cy="652" rx="13" ry="18" transform="rotate(-30 1048 652)"/>
<path d="M1100,570 Q1110,610 1095,650 L1135,690 M1095,650 L1070,708"/>
<!-- washer 10 -->
<ellipse class="f" cx="1252" cy="532" rx="124" ry="162" transform="rotate(-30 1252 532)"/>
<path d="M1165,455 Q1180,415 1212,405 L1225,410 M1335,650 Q1328,640 1332,620"/>
<ellipse cx="1228" cy="548" rx="19" ry="38" transform="rotate(-30 1228 548)"/>
<!-- washer 11 -->
<ellipse class="f" cx="1442" cy="422" rx="60" ry="116" transform="rotate(-30 1442 422)"/>
<ellipse cx="1445" cy="425" rx="17" ry="36" transform="rotate(-30 1445 425)"/>
<!-- seal 21 -->
<ellipse class="f b" cx="1595" cy="332" rx="48" ry="88" transform="rotate(-30 1595 332)"/>
<ellipse class="b" cx="1610" cy="325" rx="34" ry="64" transform="rotate(-30 1610 325)"/>
<path class="n" d="M1045,710 V870 M1245,685 V845 M1460,525 V690 M1622,420 V560"/>
</g>
<g class="fw" transform="translate(458.6,999.6) rotate(-30) skewX(-12)"><text x="0" y="0">FWD</text></g>

<!-- 80_title.svg -->
<g class="t">
<text transform="translate(419.7,32.4) scale(0.945,1)" style="font:bold 31.5px 'Liberation Sans',sans-serif;fill:#000;stroke:#000;stroke-width:.9px;stroke-linejoin:round">FIG.85</text>
</g>
<g class="bt">
<text x="421.5" y="1159.5" textLength="171" lengthAdjust="spacingAndGlyphs">LT-A750XPL2 P17_085</text>
<text x="421.5" y="1182.5" textLength="199.5" lengthAdjust="spacingAndGlyphs">REAR SUSPENSION ARM</text>
</g>

<!-- 85_labels.svg -->
<g class="l">
<text transform="translate(483.5,186.0) scale(0.9609,0.9375)">14</text>
<text transform="translate(441.6,222.7) scale(0.9609,0.9375)">16</text>
<text transform="translate(535.4,166.4) scale(0.9609,0.9375)">6<tspan dx="1.5" dy="0.5">·</tspan><tspan dx="1.5" dy="-0.5">8</tspan></text>
<text transform="translate(531.9,250.4) scale(0.9609,0.9375)">21</text>
<text transform="translate(509.1,263.9) scale(0.9609,0.9375)">15</text>
<text transform="translate(595.2,77.9) scale(0.9609,0.9375)">5<tspan dx="1.3" dy="0.5">·</tspan><tspan dx="1.3" dy="-0.5">7</tspan></text>
<text transform="translate(657.3,96.7) scale(0.9609,0.9375)">6<tspan dx="0.7" dy="0.5">·</tspan><tspan dx="0.7" dy="-0.5">8</tspan></text>
<text transform="translate(720.1,139.8) scale(0.9609,0.9375)">13</text>
<text transform="translate(761.5,111.7) scale(0.9609,0.9375)">21</text>
<text transform="translate(783.5,103.9) scale(0.9609,0.9375)">15</text>
<text transform="translate(809.1,94.2) scale(0.9609,0.9375)">14</text>
<text transform="translate(832.3,73.5) scale(0.9609,0.9375)">17</text>
<text transform="translate(959.4,236.7) scale(0.9609,0.9375)">28</text>
<text transform="translate(801.3,327.3) scale(0.9609,0.9375)">27</text>
<text transform="translate(711.9,436.7) scale(0.9609,0.9375)">30</text>
<text transform="translate(900.4,378.4) scale(0.9609,0.9375)">18</text>
<text transform="translate(1040.4,336.0) scale(0.9609,0.9375)">23</text>
<text transform="translate(1081.3,390.4) scale(0.9609,0.9375)">21</text>
<text transform="translate(1099.4,384.2) scale(0.9609,0.9375)">25</text>
<text transform="translate(1124.4,377.3) scale(0.9609,0.9375)">24</text>
<text transform="translate(1075.4,410.4) scale(0.9609,0.9375)">24</text>
<text transform="translate(1048.5,426.7) scale(0.9609,0.9375)">25</text>
<text transform="translate(1031.7,444.8) scale(0.9609,0.9375)">21</text>
<text transform="translate(1030.7,644.4) scale(0.9609,0.9375)">29</text>
<text transform="translate(1079.7,671.9) scale(0.9609,0.9375)">32</text>
<text transform="translate(615.0,516.9) scale(0.9609,0.9375)">36</text>
<text transform="translate(668.2,572.9) scale(0.9609,0.9375)">35</text>
<text transform="translate(652.5,617.9) scale(0.9609,0.9375)">34</text>
<text transform="translate(528.2,702.9) scale(0.9609,0.9375)">33</text>
<text transform="translate(683.5,633.9) scale(0.9609,0.9375)">24</text>
<text transform="translate(708.8,626.7) scale(0.9609,0.9375)">25</text>
<text transform="translate(729.9,619.2) scale(0.9609,0.9375)">21</text>
<text transform="translate(773.7,599.7) scale(0.9609,0.9375)">22</text>
<text transform="translate(759.4,582.2) scale(0.9609,0.9375)">24</text>
<text transform="translate(803.2,551.0) scale(0.9609,0.9375)">21</text>
<text transform="translate(787.9,566.7) scale(0.9609,0.9375)">25</text>
<text transform="translate(831.0,791.9) scale(0.9609,0.9375)">38</text>
<text transform="translate(905.4,675.4) scale(0.9609,0.9375)">39</text>
<text transform="translate(1007.9,677.9) scale(0.9609,0.9375)">39</text>
<text transform="translate(953.9,644.2) scale(0.9609,0.9375)">37</text>
<text transform="translate(1131.2,697.9) scale(0.9609,0.9375)">31</text>
<text transform="translate(887.2,793.4) scale(0.9609,0.9375)">2<tspan dx="0.6" dy="0.5">·</tspan><tspan dx="0.6" dy="-0.5">4</tspan></text>
<text transform="translate(1003.9,874.9) scale(0.9609,0.9375)">38</text>
<text transform="translate(671.7,919.4) scale(0.9609,0.9375)">2<tspan dx="0.6" dy="0.5">·</tspan><tspan dx="0.6" dy="-0.5">4</tspan></text>
<text transform="translate(649.0,1006.7) scale(0.9609,0.9375)">9</text>
<text transform="translate(715.4,1083.9) scale(0.9609,0.9375)">21</text>
<text transform="translate(737.3,1073.9) scale(0.9609,0.9375)">11</text>
<text transform="translate(762.0,1067.9) scale(0.9609,0.9375)">10</text>
<text transform="translate(804.8,1026.4) scale(0.9609,0.9375)">12</text>
<text transform="translate(777.1,816.0) scale(0.9609,0.9375)">1<tspan dx="-1.3" dy="0.5">·</tspan><tspan dx="-1.3" dy="-0.5">3</tspan></text>
<text transform="translate(979.9,1034.2) scale(0.9609,0.9375)">39</text>
<text transform="translate(944.4,1054.2) scale(0.9609,0.9375)">26</text>
<text transform="translate(1148.9,936.7) scale(0.9609,0.9375)">28</text>
<text transform="translate(541.6,1065.4) scale(0.9609,0.9375)">17</text>
<text transform="translate(566.6,1061.0) scale(0.9609,0.9375)">10</text>
<text transform="translate(593.5,1041.4) scale(0.9609,0.9375)">11</text>
<text transform="translate(611.9,1025.4) scale(0.9609,0.9375)">21</text>
<text transform="translate(974.4,458.5) scale(0.9609,0.9375)">20</text>
<text transform="translate(990.4,469.8) scale(0.9609,0.9375)">19</text>
<text transform="translate(846.3,531.9) scale(0.9609,0.9375)">20</text>
<text transform="translate(847.9,552.3) scale(0.9609,0.9375)">19</text>
</g>

<!-- 86_lines.svg -->
<g class="d">
<!-- chain lines around detail box -->
<path class="n" d="M876,345 L821,418 M816,425 L812,430 M809,435 L757,503"/>
<path class="n" d="M926.5,293 L1026,295.6 M1034,295.9 L1041,296.1 M1047.5,296.3 L1170.6,299.8 L1148.5,313"/>
<path class="n" d="M1104.4,443.8 L1116.5,437 L1109.3,573.8 M1108.7,585 L1107.2,612.5 M1106,634 L1101.8,712.5 M1101.5,717.5 L1101.2,723 M1100.9,728.5 L1085.6,1010"/>
</g>
<g class="d" transform="translate(880,640) scale(0.125)"><path class="n" d="M1205,565 L1350,485 L270,2880 L590,2720"/></g>
<g class="d" transform="translate(820,830) scale(0.125)"><path class="n" d="M-1204,-1075 L380,180 M420,215 L450,240 M480,260 L1060,690 L2040,1472"/></g>

<!-- 90_wm.svg -->
<defs>
<pattern id="wm" class="wm" patternUnits="userSpaceOnUse" x="2.7" y="-38.4" width="119" height="88.14" patternTransform="rotate(-30)">
<text x="24" y="44.67">motod.ru</text>
<text x="83.5" y="0.6">motod.ru</text>
<text x="-35.5" y="0.6">motod.ru</text>
<text x="83.5" y="88.74">motod.ru</text>
<text x="-35.5" y="88.74">motod.ru</text>
</pattern>
</defs>
<rect width="1600" height="1200" fill="url(#wm)"/>

</svg>
</body>
</html>
